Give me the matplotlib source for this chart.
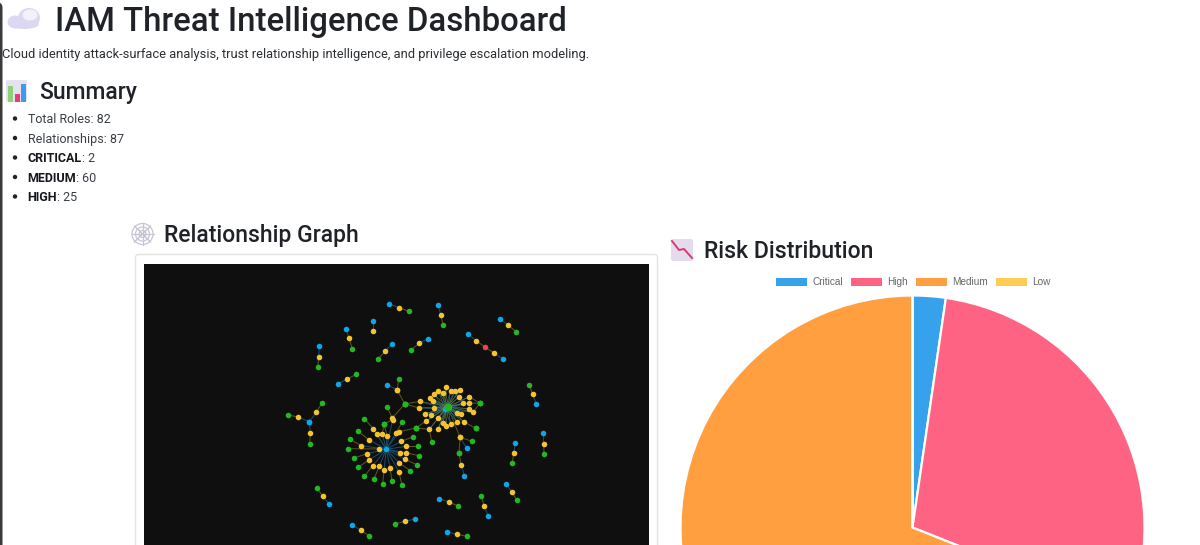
# -*- coding: utf-8 -*-
import matplotlib
matplotlib.use("Agg")
import matplotlib.pyplot as plt
from matplotlib.patches import Rectangle, Ellipse, FancyBboxPatch, Circle

W, H = 1200, 545

# --- summary values
summary_plain = [("Total Roles", "82"), ("Relationships", "87")]
summary_bold = [("CRITICAL", "2"), ("MEDIUM", "60"), ("HIGH", "25")]

# --- pie
risk_labels = ["Critical", "High", "Medium", "Low"]
risk_values = [2, 25, 60, 0]
risk_colors = ["#36a2eb", "#ff6384", "#ff9f40", "#ffcd56"]

# --- graph: small chains, (kind, x, y) in reading order
chains = [
    [("b", 389.3, 303.7), ("y", 399, 307.7), ("g", 408.7, 311.3)],
    [("b", 373.3, 320.7), ("y", 373.3, 330.7)],
    [("b", 346, 328.7), ("y", 349, 338.3), ("g", 352.3, 348.7)],
    [("b", 319.3, 346.3), ("y", 318.7, 356.7), ("g", 317.7, 367)],
    [("b", 392, 343.7), ("y", 385.3, 351.3), ("g", 378, 358.7)],
    [("b", 428.3, 338.7), ("y", 419.3, 343.3), ("g", 411.3, 349.7)],
    [("g", 356.3, 374.3), ("y", 347.3, 379), ("b", 338.3, 383.7)],
    [("b", 438.3, 305), ("y", 440.7, 315), ("g", 443.3, 325)],
    [("b", 499.7, 318.7), ("y", 508, 325), ("g", 516, 331.7)],
    [("b", 468, 334), ("y", 476, 340.7), ("r", 485, 347), ("y", 494.3, 353.3), ("b", 503.3, 359.3)],
    [("g", 529.3, 385), ("y", 532.7, 394.3), ("b", 536.3, 404)],
    [("b", 515.3, 443), ("y", 513.7, 453), ("g", 512.3, 463.3)],
    [("b", 543.3, 433.3), ("y", 543.7, 443.7), ("g", 544, 454.3)],
    [("b", 505.7, 483.7), ("y", 511.7, 491.7), ("g", 517, 500.3)],
    [("g", 481, 496.3), ("y", 484.3, 506), ("b", 488, 515.7)],
    [("b", 439.3, 498.7), ("y", 448.7, 502), ("g", 458.3, 506)],
    [("b", 447, 532), ("y", 457, 534.3), ("g", 467, 536.3)],
    [("b", 415, 519), ("y", 405, 521.3), ("g", 395, 524)],
    [("g", 316.7, 488), ("y", 323, 496.3), ("b", 329.3, 504.3)],
    [("b", 352, 525), ("y", 361, 530.3), ("g", 369.3, 536)],
    [("g", 288, 415), ("y", 298, 417), ("b", 309.3, 421.7), ("y", 310.3, 433), ("g", 309.7, 444)],
    [("g", 321.7, 403.3), ("y", 316.3, 412.3), ("b", 309.3, 421.7)],
    [("b", 387.3, 384.7), ("y", 397.3, 390), ("g", 404.7, 404)],
    [("g", 398.7, 378.7), ("y", 397.3, 390)],
    [("g", 387.3, 407.3), ("y", 392.3, 418), ("g", 404.7, 404)],
    [("g", 459, 453.3), ("y", 461.3, 465.3), ("b", 464.3, 475.7)],
    [("g", 472, 441.3), ("y", 460, 437.3), ("b", 466.7, 448.3)],
    [("g", 459, 453.3), ("y", 460, 437.3), ("g", 447.7, 406.7)],
]

# --- lower hub: blue centre, yellow ring, optional outer green
lower_hub = (386.3, 449.3)
lower_spokes = [
    (373.3, 428.7, 364.3, 418.7), (377, 434.3, None, None), (382.3, 434, 384, 424),
    (387, 435.7, 384, 424), (395.7, 433.3, 402.3, 422), (399.3, 431.7, 415.7, 428),
    (392.7, 419.7, 384, 424), (368.7, 439.7, 358.3, 431.3), (361.3, 445.7, 350, 439.3),
    (366.7, 453.7, 354.3, 458), (379, 449, 348.3, 448.7), (401.3, 441.3, 412.7, 437),
    (406, 446.3, 418.3, 446.3), (405.7, 452.7, 419, 455.7), (399.7, 453, None, None),
    (405, 459.3, 417.3, 465), (399.3, 463, 410.3, 470.7), (369.3, 459.7, 358.3, 467.3),
    (372.7, 465.7, 364.3, 476.3), (379.3, 466.3, 374, 478.7), (384, 470.3, 382.7, 484),
    (390, 467.7, 392, 481), (399, 472, 402, 485.3),
]

# --- upper hub
upper_hub = (445, 409)
upper_hub_green = (447.7, 406.7)
upper_spokes = [
    (445.7, 387.3, None, None), (433.7, 394, None, None), (438.3, 391, None, None),
    (442.7, 392.7, None, None), (450.7, 391, None, None), (455.3, 391, None, None),
    (460.3, 390, None, None), (429.7, 397.7, None, None), (432.7, 401.3, None, None),
    (420, 401.3, 404.7, 404), (419.3, 408, 404.7, 404), (434.3, 407.7, None, None),
    (459, 397, None, None), (469.3, 396.7, 480, 403.3), (462.7, 403.3, None, None),
    (469, 403, 480, 403.3), (469.3, 408.7, None, None), (473, 412.3, 480, 403.3),
    (425.3, 413.7, None, None), (430.7, 414.7, None, None), (437.7, 417.7, None, None),
    (456.7, 412.7, None, None), (461.3, 414.3, None, None), (425.7, 421.3, 415.7, 428),
    (442.7, 423, None, None), (446.3, 425.7, None, None), (450.7, 424, None, None),
    (457.3, 422, None, None), (463.7, 421.7, 475.7, 428.3), (429.3, 429.3, 415.7, 428),
    (438.3, 428.7, None, None),
]
extra_green = [(431.7, 441.7), (475.7, 428.3)]

node_colors = {"b": "#0ea5e9", "y": "#f4c430", "g": "#22b822", "r": "#ef4444"}
EDGE_BLUE = "#174f70"
EDGE_GREEN = "#5e5822"
INK = "#1f2328"

plt.rcParams["font.family"] = ["Roboto", "DejaVu Sans"]
fig = plt.figure(figsize=(W / 100, H / 100), dpi=100, facecolor="white")

# page layer in reference pixels
page = fig.add_axes([0, 0, 1, 1])
page.set_xlim(0, W)
page.set_ylim(H, 0)
page.axis("off")

page.add_patch(FancyBboxPatch((-8, 2), 10.5, 560, boxstyle="round,pad=0,rounding_size=6",
                              fc="#3a3a3a", ec="none"))


def txt(x, y, s, size, weight="normal", color=INK, **kw):
    return page.text(x, y, s, fontsize=size, fontweight=weight, color=color,
                     ha="left", va="baseline", **kw)


txt(55, 31, "IAM Threat Intelligence Dashboard", 23.7, "medium")
txt(2, 58, "Cloud identity attack-surface analysis, trust relationship intelligence, "
    "and privilege escalation modeling.", 9.25, color="#2a2e33")
txt(39, 99, "Summary", 16.5, "medium")
txt(164, 242, "Relationship Graph", 16.5, "medium")
txt(704, 258, "Risk Distribution", 16.6, "medium")

# bullets
rows = [(k, v, False) for k, v in summary_plain] + [(k, v, True) for k, v in summary_bold]
for i, (k, v, bold) in enumerate(rows):
    y = 123 + i * 19.5
    page.add_patch(Circle((15, y - 4.5), 2.2, fc="#222222", ec="none"))
    if bold:
        t = txt(27.5, y, k, 9, "bold", "#15181c")
        fig.canvas.draw()
        bb = t.get_window_extent()
        txt(bb.x1 + 0.2, y, ": " + v, 9, color="#3a3e44")
    else:
        txt(27.5, y, k + ": " + v, 9, color="#3a3e44")

# emoji, drawn by hand
for (ex, ey, ew, eh) in [(15, 22, 15, 13), (29, 18, 22, 20), (24, 24, 30, 10)]:
    page.add_patch(Ellipse((ex, ey), ew, eh, fc="#dcd8f2", ec="none"))
page.add_patch(Ellipse((30, 15), 15, 11, fc="#f3f1fb", ec="none"))

page.add_patch(FancyBboxPatch((6, 80), 21, 22, boxstyle="round,pad=0,rounding_size=2",
                              fc="#e4e2ec", ec="none"))
for x0, y0, c in [(8, 86, "#8fd07a"), (15, 94, "#e8397d"), (21, 84, "#3f9be8")]:
    page.add_patch(Rectangle((x0, y0), 5, 102 - y0, fc=c, ec="none"))

web_c = (142.5, 234)
for r_ in (3.5, 7, 10.5):
    page.add_patch(Circle(web_c, r_, fc="none", ec="#c9c5d6", lw=0.9))
for dx, dy in [(11, 0), (8, 8), (0, 11), (-8, 8), (-11, 0), (-8, -8), (0, -11), (8, -8)]:
    page.plot([web_c[0] - dx, web_c[0] + dx], [web_c[1] - dy, web_c[1] + dy],
              color="#c9c5d6", lw=0.8)

page.add_patch(FancyBboxPatch((671, 239), 22, 22, boxstyle="round,pad=0,rounding_size=2",
                              fc="#e4dcec", ec="none"))
page.plot([672, 679, 684, 692], [241, 250, 249, 258], color="#d83a72", lw=1.4)

# graph card
page.add_patch(FancyBboxPatch((135.5, 254.5), 522, 300, boxstyle="round,pad=0,rounding_size=3",
                              fc="white", ec="#e3e3e3", lw=1))

# graph panel
gx0, gx1, gy0, gy1 = 144, 649, 264, 545
graph = fig.add_axes([gx0 / W, 0, (gx1 - gx0) / W, (gy1 - gy0) / H])
graph.set_xlim(gx0, gx1)
graph.set_ylim(gy1, gy0)
graph.set_facecolor("#0f0f0f")
graph.set_xticks([])
graph.set_yticks([])
for s in graph.spines.values():
    s.set_visible(False)

xs = {"b": [], "y": [], "g": [], "r": []}
ys = {"b": [], "y": [], "g": [], "r": []}

for chain in chains:
    for (k1, x1, y1), (k2, x2, y2) in zip(chain[:-1], chain[1:]):
        col = EDGE_BLUE if "b" in (k1, k2) else EDGE_GREEN
        graph.plot([x1, x2], [y1, y2], color=col, lw=0.7, zorder=1)
    for k, x, y in chain:
        xs[k].append(x)
        ys[k].append(y)

for hub, spokes in ((lower_hub, lower_spokes), (upper_hub, upper_spokes)):
    xs["b"].append(hub[0])
    ys["b"].append(hub[1])
    for yx, yy, ox, oy in spokes:
        graph.plot([hub[0], yx], [hub[1], yy], color=EDGE_BLUE, lw=0.7, zorder=1)
        xs["y"].append(yx)
        ys["y"].append(yy)
        if ox is not None:
            graph.plot([yx, ox], [yy, oy], color=EDGE_GREEN, lw=0.7, zorder=1)
            xs["g"].append(ox)
            ys["g"].append(oy)

# upper hub has a green node on top, with its own yellow spokes
for yx, yy, _, _ in upper_spokes:
    graph.plot([upper_hub_green[0], yx], [upper_hub_green[1], yy], color="#6f7d38",
               lw=0.4, zorder=1)
xs["g"].extend([upper_hub_green[0]] + [p[0] for p in extra_green])
ys["g"].extend([upper_hub_green[1]] + [p[1] for p in extra_green])
graph.plot([429.3, extra_green[0][0]], [429.3, extra_green[0][1]], color=EDGE_GREEN, lw=0.7, zorder=1)

for k in ("b", "y", "g", "r"):
    graph.scatter(xs[k], ys[k], s=16, color=node_colors[k], linewidths=0,
                  zorder=4 if k != "g" else 3)
graph.scatter(*upper_hub_green, s=30, color=node_colors["g"], linewidths=0, zorder=5)

# pie, runs off the bottom of the page like the screenshot
cx, cy, r = 912.5, 527.5, 232
pie = fig.add_axes([(cx - r) / W, 1 - (cy + r) / H, 2 * r / W, 2 * r / H])
pie.pie(risk_values, colors=risk_colors, startangle=90, counterclock=False, radius=1,
        wedgeprops=dict(edgecolor="white", linewidth=1.6))
pie.set_xlim(-1, 1)
pie.set_ylim(-1, 1)
pie.patch.set_visible(False)

# legend
legend_x = [776, 851, 916, 996]
for x0, lab, col in zip(legend_x, risk_labels, risk_colors):
    page.add_patch(Rectangle((x0, 277.5), 30.5, 8.5, fc=col, ec="none", zorder=6))
    page.text(x0 + 36.5, 285, lab, fontsize=7.2, color="#666666", family="Liberation Sans",
              ha="left", va="baseline", zorder=6)

fig.savefig("out.png", dpi=100)
